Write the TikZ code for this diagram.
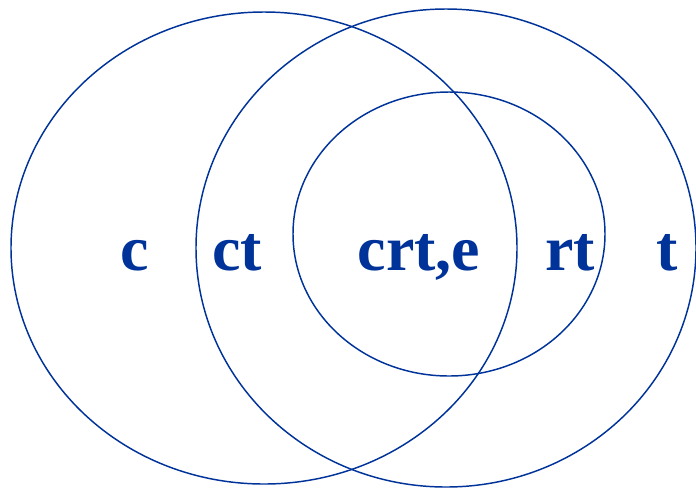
\documentclass[tikz,border=0pt]{standalone}
\usepackage{fontspec}
\setmainfont{Liberation Serif}
\usetikzlibrary{positioning}
\definecolor{setblue}{RGB}{0,51,153}

\begin{document}
\begin{tikzpicture}[x=0.75pt,y=-0.75pt,
    ring/.style={draw=setblue,line width=1.1pt},
    lbl/.style={text=setblue,font=\fontsize{48}{50}\selectfont\bfseries,anchor=base,inner sep=0pt}]
  \useasboundingbox (0,0) rectangle (696,487);
  \draw[ring] (264,248) ellipse [x radius=253, y radius=236];
  \draw[ring] (446,248) ellipse [x radius=250, y radius=239];
  \draw[ring] (449,234) ellipse [x radius=156, y radius=142];
  \node[lbl] (c) at (135,270) {c};
  \node[lbl] (ct) at (237,270) {ct};
  \node[lbl] (crte) at (419,270) {crt,e};
  \node[lbl] (rt) at (570,270) {rt};
  \node[lbl] (t) at (667,270) {t};
\end{tikzpicture}
\end{document}
